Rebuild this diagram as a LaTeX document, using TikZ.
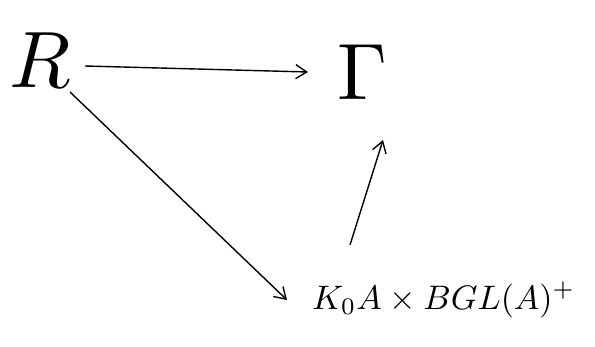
\documentclass[tikz,border=0pt]{standalone}
\usepackage{graphicx}
\usetikzlibrary{arrows.meta}
\begin{document}
\begin{tikzpicture}[x=1pt,y=-1pt,
  obj/.style={inner sep=2pt},
  arr/.style={line width=1.4pt,-{Straight Barb[length=11pt,width=14pt]}}]
\useasboundingbox (0,0) rectangle (595,347);
\node[obj] (R) at (40,60) {\scalebox{8}{$R$}};
\node[obj] (G) at (362,72) {\scalebox{8}{$\Gamma$}};
\node[obj,anchor=west] (B) at (310,300) {\scalebox{3.4}{$K_0A\times BGL(A)^+$}};
\draw[arr] ([shift={(45,6)}]R.center) -- ([shift={(-54,0)}]G.center);
\draw[arr] ([shift={(30,32)}]R.center) -- ([shift={(-23,0)}]B.west);
\draw[arr] ([shift={(40,-55)}]B.west) -- ([shift={(21,68)}]G.center);
\end{tikzpicture}
\end{document}
